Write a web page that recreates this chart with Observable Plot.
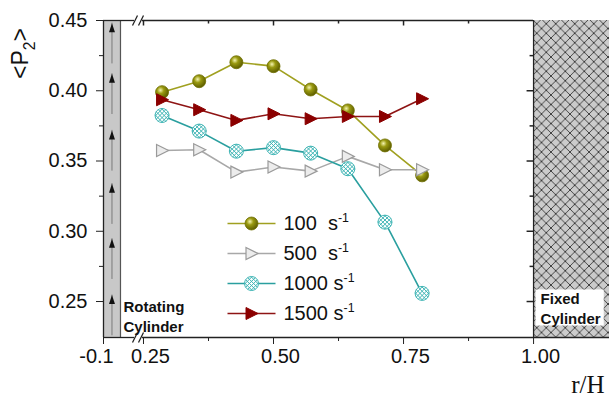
<!DOCTYPE html>
<html><head><meta charset="utf-8">
<script src="https://cdn.jsdelivr.net/npm/d3@7"></script>
<script src="https://cdn.jsdelivr.net/npm/@observablehq/plot@0.6"></script>
<style>body{margin:0;background:#fff}</style>
</head><body><div id="chart"></div>
<script>
// ---------- data ----------
const rH = [0.2857, 0.3571, 0.4286, 0.5, 0.5714, 0.6429, 0.7143, 0.7857];
const p2_100  = [0.399, 0.4068, 0.4203, 0.4175, 0.4009, 0.386, 0.3611, 0.3398];
const p2_500  = [0.3575, 0.358, 0.3421, 0.3457, 0.3428, 0.3533, 0.3438, 0.3438];
const p2_1000 = [0.3824, 0.3713, 0.357, 0.3595, 0.3556, 0.3445, 0.3065, 0.2558];
const p2_1500 = [0.3936, 0.3865, 0.3789, 0.3836, 0.3801, 0.3817, 0.3817, 0.3943];
const seriesNames = ["100", "500", "1000", "1500"];
const legendLabels = ["100\u00a0\u00a0s^{-1}", "500\u00a0\u00a0s^{-1}", "1000\u00a0s^{-1}", "1500\u00a0s^{-1}"];
const xTicksMajor = [0.25, 0.5, 0.75, 1.0];
const xTicksMinor = [0.375, 0.625, 0.875];
const xTickLeft = [-0.1];
const yTicksMajor = [0.25, 0.30, 0.35, 0.40, 0.45];
const yTicksMinor = [0.275, 0.325, 0.375, 0.425];
const xDomain = [-0.1, -0.0407, 0.2481, 1.146]; // broken axis: two segments
const yDomain = [0.2244, 0.45];
const rotatingCylinder = [-0.1, -0.0675];
const fixedCylinder = [1.0, 1.146];
const arrowTips = [0.4481, 0.4121, 0.3718, 0.3339, 0.2947, 0.2546];
const arrowLength = 0.029;
const arrowX = -0.0838;
const yTitle = "<P_{2}>";
const xTitle = "r/H";
const rotatingLabel = "Rotating\nCylinder";
const fixedLabel = "Fixed\nCylinder";

// ---------- styles ----------
const lineColors = ["#a0a020", "#a8a8a8", "#2a9f9f", "#8e1414"];
const sym = f => ({draw: f});
const rightTri = sym(c => { c.moveTo(-5.5, -6); c.lineTo(6.5, 0); c.lineTo(-5.5, 6); c.closePath(); });
const hatchCircle = sym(c => {
  const r = 7;
  c.moveTo(r, 0); c.arc(0, 0, r, 0, 2 * Math.PI);
  for (const k of [-6.3, -2.1, 2.1, 6.3]) {
    const d = Math.sqrt(2 * r * r - k * k);
    let a = (-k - d) / 2, b = (-k + d) / 2;
    c.moveTo(a, a + k); c.lineTo(b, b + k);
    a = (k - d) / 2; b = (k + d) / 2;
    c.moveTo(a, k - a); c.lineTo(b, k - b);
  }
});
const sphere = sym(c => { c.moveTo(6.5, 0); c.arc(0, 0, 6.5, 0, 2 * Math.PI); });
const markerStyles = [
  {symbol: sphere, fill: "url(#sphereGrad)", stroke: "#6e6e00", strokeWidth: 0.8},
  {symbol: rightTri, fill: "#ececec", stroke: "#9a9a9a", strokeWidth: 1.2},
  {symbol: hatchCircle, fill: "white", stroke: "#3fb5b5", strokeWidth: 1},
  {symbol: rightTri, fill: "#8b0000", stroke: "#8b0000", strokeWidth: 1}
];
const tickDown = L => sym(c => { c.moveTo(0, 0); c.lineTo(0, L); });
const tickLeft = L => sym(c => { c.moveTo(0, 0); c.lineTo(-L, 0); });
const hLine = L => sym(c => { c.moveTo(-L / 2, 0); c.lineTo(L / 2, 0); });
const arrowHead = sym(c => { c.moveTo(0, 0); c.lineTo(-3, 9); c.lineTo(3, 9); c.closePath(); });
const breakMark = sym(c => { c.moveTo(-6, 5); c.lineTo(-1, -5); c.moveTo(0, 5); c.lineTo(5, -5); });
const axisColor = "#222";

// ---------- table ----------
const seriesValues = [p2_100, p2_500, p2_1000, p2_1500];
const table = seriesNames.flatMap((s, i) => rH.map((x, j) => ({series: s, x, y: seriesValues[i][j]})));
const breakX = (xDomain[1] + xDomain[2]) / 2;

const marks = [];
// cylinders
marks.push(Plot.rect([fixedCylinder], {x1: d => d[0], x2: d => d[1], y1: () => yDomain[0], y2: () => yDomain[1], fill: "url(#xhatch)"}));
marks.push(Plot.rect([rotatingCylinder], {x1: d => d[0], x2: d => d[1], y1: () => yDomain[0], y2: () => yDomain[1], fill: "#c8c8c8"}));
marks.push(Plot.ruleX([rotatingCylinder[1]], {stroke: "#555", strokeWidth: 1.2}));
marks.push(Plot.ruleX(arrowTips, {x: () => arrowX, y1: d => d - arrowLength, y2: d => d, stroke: "#7a7a7a", strokeWidth: 1}));
marks.push(Plot.dot(arrowTips, {x: () => arrowX, y: d => d, symbol: arrowHead, fill: "#111", stroke: "none"}));
// series lines & markers
seriesNames.forEach((s, i) => {
  marks.push(Plot.line(table.filter(d => d.series === s), {x: "x", y: "y", stroke: lineColors[i], strokeWidth: 1.6}));
});
seriesNames.forEach((s, i) => {
  marks.push(Plot.dot(table.filter(d => d.series === s), {x: "x", y: "y", ...markerStyles[i]}));
});
// frame lines
marks.push(Plot.ruleX([rotatingCylinder[0]], {stroke: axisColor, strokeWidth: 1.3}));
marks.push(Plot.ruleX([fixedCylinder[0]], {stroke: axisColor, strokeWidth: 1.3}));
marks.push(Plot.ruleY([yDomain[1]], {x1: () => xDomain[0], x2: () => xDomain[1], stroke: axisColor, strokeWidth: 1.3}));
marks.push(Plot.ruleY([yDomain[1]], {x1: () => xDomain[2], x2: () => fixedCylinder[0], stroke: axisColor, strokeWidth: 1.3}));
marks.push(Plot.ruleY([yDomain[0]], {x1: () => xDomain[0], x2: () => xDomain[1], stroke: axisColor, strokeWidth: 1.3}));
marks.push(Plot.ruleY([yDomain[0]], {x1: () => xDomain[2], x2: () => xDomain[3], stroke: axisColor, strokeWidth: 1.3}));
marks.push(Plot.dot(yDomain, {x: () => breakX, y: d => d, symbol: breakMark, stroke: axisColor, fill: "none", strokeWidth: 1.3}));
// inner ticks (top and right)
marks.push(Plot.dot([0.25, 0.5, 0.75], {x: d => d, y: () => yDomain[1], symbol: tickDown(5), stroke: axisColor, fill: "none"}));
marks.push(Plot.dot(xTicksMinor, {x: d => d, y: () => yDomain[1], symbol: tickDown(3), stroke: axisColor, fill: "none"}));
marks.push(Plot.dot(yTicksMajor.slice(0, 4), {x: () => fixedCylinder[0], y: d => d, symbol: tickLeft(7), stroke: axisColor, fill: "none"}));
marks.push(Plot.dot(yTicksMinor, {x: () => fixedCylinder[0], y: d => d, symbol: tickLeft(4), stroke: axisColor, fill: "none"}));
// axes
marks.push(Plot.axisY(yTicksMajor, {tickSize: 7, tickPadding: 9, tickFormat: d3.format(".2f"), fontSize: 20, label: null, stroke: axisColor, fill: "#111"}));
marks.push(Plot.axisY(yTicksMinor, {tickSize: 4, tickFormat: () => "", label: null, stroke: axisColor}));
marks.push(Plot.axisX([...xTickLeft, ...xTicksMajor], {tickSize: 7, tickFormat: () => "", label: null, stroke: axisColor}));
marks.push(Plot.axisX(xTicksMinor, {tickSize: 4, tickFormat: () => "", label: null, stroke: axisColor}));
marks.push(Plot.axisX(xTicksMajor, {tickSize: 0, tickPadding: 11, dx: 7, tickFormat: d3.format(".2f"), fontSize: 20, label: null, fill: "#111"}));
marks.push(Plot.axisX(xTickLeft, {tickSize: 0, tickPadding: 11, dx: -7, tickFormat: d => d.toFixed(1), fontSize: 20, label: null, fill: "#111"}));
// legend
seriesNames.forEach((s, i) => {
  const dy = 203 + 30 * i;
  marks.push(Plot.dot([s], {frameAnchor: "top-left", dx: 148, dy, symbol: hLine(48), stroke: lineColors[i], strokeWidth: 1.6, fill: "none"}));
  marks.push(Plot.dot([s], {frameAnchor: "top-left", dx: 148, dy, ...markerStyles[i]}));
  marks.push(Plot.text([legendLabels[i]], {frameAnchor: "top-left", dx: 180, dy, textAnchor: "start", lineAnchor: "middle", fontSize: 20, fill: "#111"}));
});
// annotations
marks.push(Plot.text([rotatingLabel], {x: () => rotatingCylinder[1], frameAnchor: "bottom", dx: 3, dy: -6, textAnchor: "start", lineAnchor: "bottom", lineHeight: 1.27, fontSize: 15, fontWeight: "bold", fill: "#111"}));
marks.push(Plot.text([fixedLabel], {x: () => fixedCylinder[0], frameAnchor: "bottom", dx: 7, dy: -14, textAnchor: "start", lineAnchor: "bottom", lineHeight: 1.27, fontSize: 15, fontWeight: "bold", fill: "#111"}));
marks.push(Plot.text([yTitle], {frameAnchor: "top-left", dx: -83, dy: 33, rotate: -90, textAnchor: "middle", lineAnchor: "middle", fontSize: 23, fill: "#111"}));
marks.push(Plot.text([xTitle], {frameAnchor: "bottom-right", dx: -5, dy: 47, textAnchor: "end", lineAnchor: "middle", fontSize: 25, fontFamily: "'Liberation Serif', 'Times New Roman', serif", fill: "#111"}));

const svg = Plot.plot({
  width: 609, height: 397,
  marginLeft: 103, marginRight: 0, marginTop: 20, marginBottom: 60,
  style: {fontFamily: "'Liberation Sans', Arial, sans-serif", fontSize: "20px", background: "white", color: "#111"},
  x: {type: "linear", domain: xDomain, range: [103, 134, 142, 609]},
  y: {type: "linear", domain: yDomain, range: [337, 20]},
  marks
});
document.getElementById("chart").appendChild(svg);

// defs: hatch pattern and sphere gradient
const defs = d3.select(svg).insert("defs", ":first-child");
const T = 9.5;
const pat = defs.append("pattern").attr("id", "xhatch").attr("width", T).attr("height", T).attr("patternUnits", "userSpaceOnUse");
pat.append("rect").attr("width", T).attr("height", T).attr("fill", "#cbcbcb");
pat.append("path").attr("d", `M0,0L${T},${T}M${T},0L0,${T}`).attr("stroke", "#333").attr("stroke-width", 0.9);
const grad = defs.append("radialGradient").attr("id", "sphereGrad").attr("cx", "38%").attr("cy", "35%").attr("r", "65%");
grad.append("stop").attr("offset", "0%").attr("stop-color", "#f4f4b0");
grad.append("stop").attr("offset", "40%").attr("stop-color", "#9a9a10");
grad.append("stop").attr("offset", "100%").attr("stop-color", "#5e5e00");

// rich text: ^{..} superscript, _{..} subscript
function richText(root) {
  const ns = "http://www.w3.org/2000/svg";
  root.querySelectorAll("text").forEach(t => {
    if (t.querySelector("tspan")) return;
    const s = t.textContent;
    if (!/[\^_]\{[^}]*\}/.test(s)) return;
    const fs = parseFloat(getComputedStyle(t).fontSize) || 16;
    t.textContent = "";
    let cur = 0;
    const add = (txt, off, scale) => {
      const ts = document.createElementNS(ns, "tspan");
      ts.textContent = txt;
      const d = off - cur;
      if (d) ts.setAttribute("dy", d.toFixed(2));
      if (scale !== 1) ts.setAttribute("font-size", (fs * scale).toFixed(1));
      cur = off;
      t.appendChild(ts);
    };
    const re = /([\^_])\{([^}]*)\}/g;
    let last = 0, m;
    while ((m = re.exec(s))) {
      if (m.index > last) add(s.slice(last, m.index), 0, 1);
      if (m[1] === "^") add(m[2], -0.38 * fs, 0.62); else add(m[2], 0.3 * fs, 0.68);
      last = re.lastIndex;
    }
    if (last < s.length) add(s.slice(last), 0, 1);
  });
}
richText(svg);

// white box behind "Fixed Cylinder"
const target = fixedLabel.replace("\n", "");
svg.querySelectorAll("text").forEach(t => {
  if (t.textContent !== target) return;
  const b = t.getBBox();
  const r = document.createElementNS("http://www.w3.org/2000/svg", "rect");
  r.setAttribute("x", b.x - 5); r.setAttribute("y", b.y - 1);
  r.setAttribute("width", b.width + 8); r.setAttribute("height", b.height);
  r.setAttribute("fill", "white");
  const tr = t.getAttribute("transform");
  if (tr) r.setAttribute("transform", tr);
  t.parentNode.insertBefore(r, t);
});
</script>
</body></html>
